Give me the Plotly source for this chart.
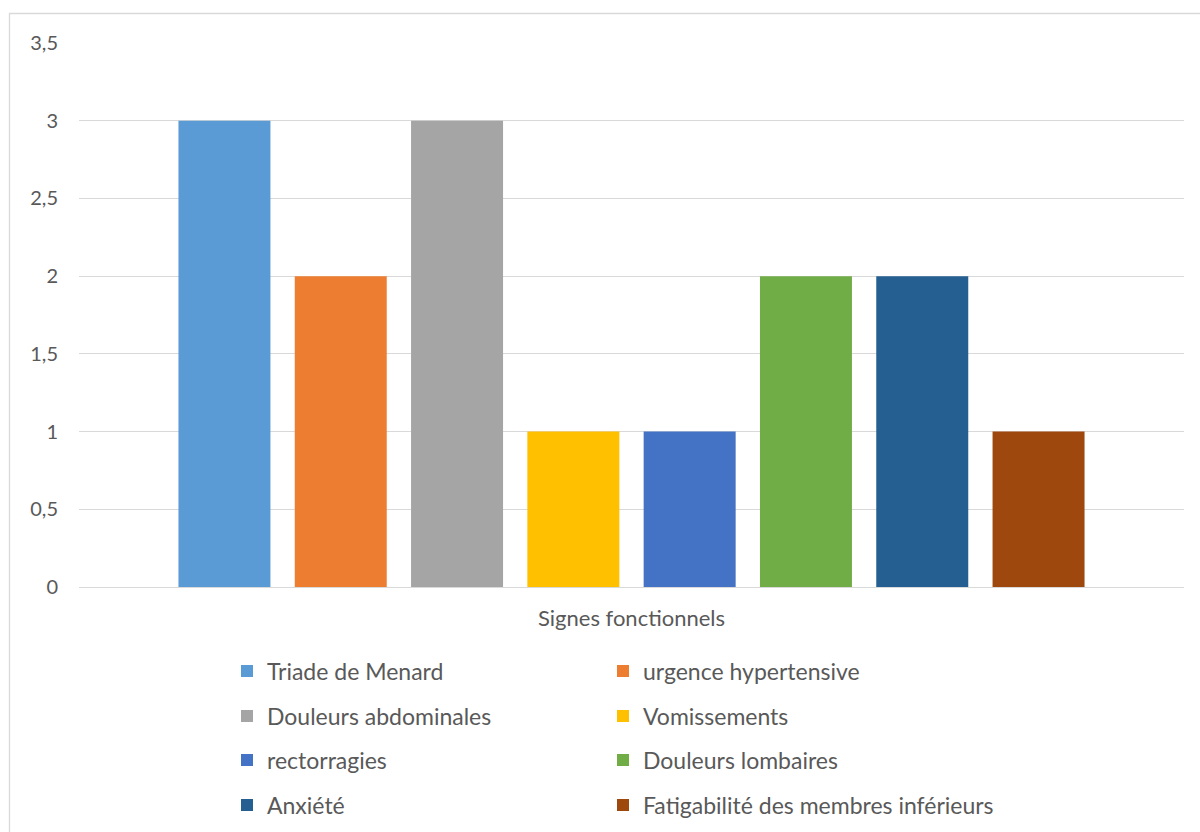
import plotly.graph_objects as go

# Données : nombre de patients par signe fonctionnel
category = ["Signes fonctionnels"]
series_names = [
    "Triade de Menard",
    "urgence hypertensive",
    "Douleurs abdominales",
    "Vomissements",
    "rectorragies",
    "Douleurs lombaires",
    "Anxiété",
    "Fatigabilité des membres inférieurs",
]
series_values = [3, 2, 3, 1, 1, 2, 2, 1]
series_colors = [
    "#5B9BD5", "#ED7D31", "#A5A5A5", "#FFC000",
    "#4472C4", "#70AD47", "#255E91", "#9E480E",
]
y_tick_values = [0, 0.5, 1, 1.5, 2, 2.5, 3, 3.5]
y_tick_labels = ["0", "0,5", "1", "1,5", "2", "2,5", "3", "3,5"]

FONT = "Lato"
TEXT_GREY = "#595959"
GRID_GREY = "#D9D9D9"

W, H = 1200, 832
PLOT_L, PLOT_R, PLOT_T, PLOT_B = 79, 1184, 43, 587


def px_x(px):
    return (px - PLOT_L) / (PLOT_R - PLOT_L)


def px_y(py):
    return (PLOT_B - py) / (PLOT_B - PLOT_T)


# legend grid: two columns, four rows, one single-entry legend per cell
col_lefts = [227, 603]
row_centers = [671, 716, 760, 805]
legend_ids = ["legend"] + [f"legend{k}" for k in range(2, len(series_names) + 1)]

fig = go.Figure()
for i, (name, val, col) in enumerate(zip(series_names, series_values, series_colors)):
    fig.add_trace(go.Bar(
        x=category,
        y=[val],
        name=name,
        marker=dict(color=col, line=dict(width=0)),
        legend=legend_ids[i],
        hoverinfo="name+y",
    ))

legend_layout = {}
for i, lid in enumerate(legend_ids):
    legend_layout[lid] = dict(
        orientation="h",
        xanchor="left",
        yanchor="middle",
        x=px_x(col_lefts[i % 2]),
        y=px_y(row_centers[i // 2]),
        font=dict(family=FONT, size=23, color=TEXT_GREY),
        bgcolor="rgba(0,0,0,0)",
        borderwidth=0,
        itemclick=False,
        itemdoubleclick=False,
    )

fig.update_layout(
    width=W,
    height=H,
    margin=dict(l=PLOT_L, r=W - PLOT_R, t=PLOT_T, b=H - PLOT_B, pad=0,
                autoexpand=False),
    paper_bgcolor="white",
    plot_bgcolor="white",
    barmode="group",
    bargap=0.158,
    bargroupgap=0.209,
    showlegend=True,
    font=dict(family=FONT, color=TEXT_GREY),
    xaxis=dict(
        type="category",
        showgrid=False,
        showline=False,
        zeroline=False,
        ticks="",
        tickfont=dict(family=FONT, size=22, color=TEXT_GREY),
        ticklabelstandoff=16,
        fixedrange=True,
    ),
    yaxis=dict(
        range=[0, 3.5],
        tickvals=y_tick_values,
        ticktext=y_tick_labels,
        showgrid=True,
        gridcolor=GRID_GREY,
        gridwidth=1.3,
        zeroline=True,
        zerolinecolor=GRID_GREY,
        zerolinewidth=1.3,
        showline=False,
        ticks="",
        tickfont=dict(family=FONT, size=20, color=TEXT_GREY),
        ticklabelstandoff=20,
        fixedrange=True,
    ),
    shapes=[
        # chart frame
        dict(
            type="rect",
            xref="paper", yref="paper",
            x0=px_x(9.5), x1=px_x(1215),
            y0=px_y(850), y1=px_y(13.5),
            line=dict(color=GRID_GREY, width=1.3),
            fillcolor="rgba(0,0,0,0)",
            layer="below",
        )
    ],
    **legend_layout,
)

fig.write_html("out.html", config={"displayModeBar": False})
